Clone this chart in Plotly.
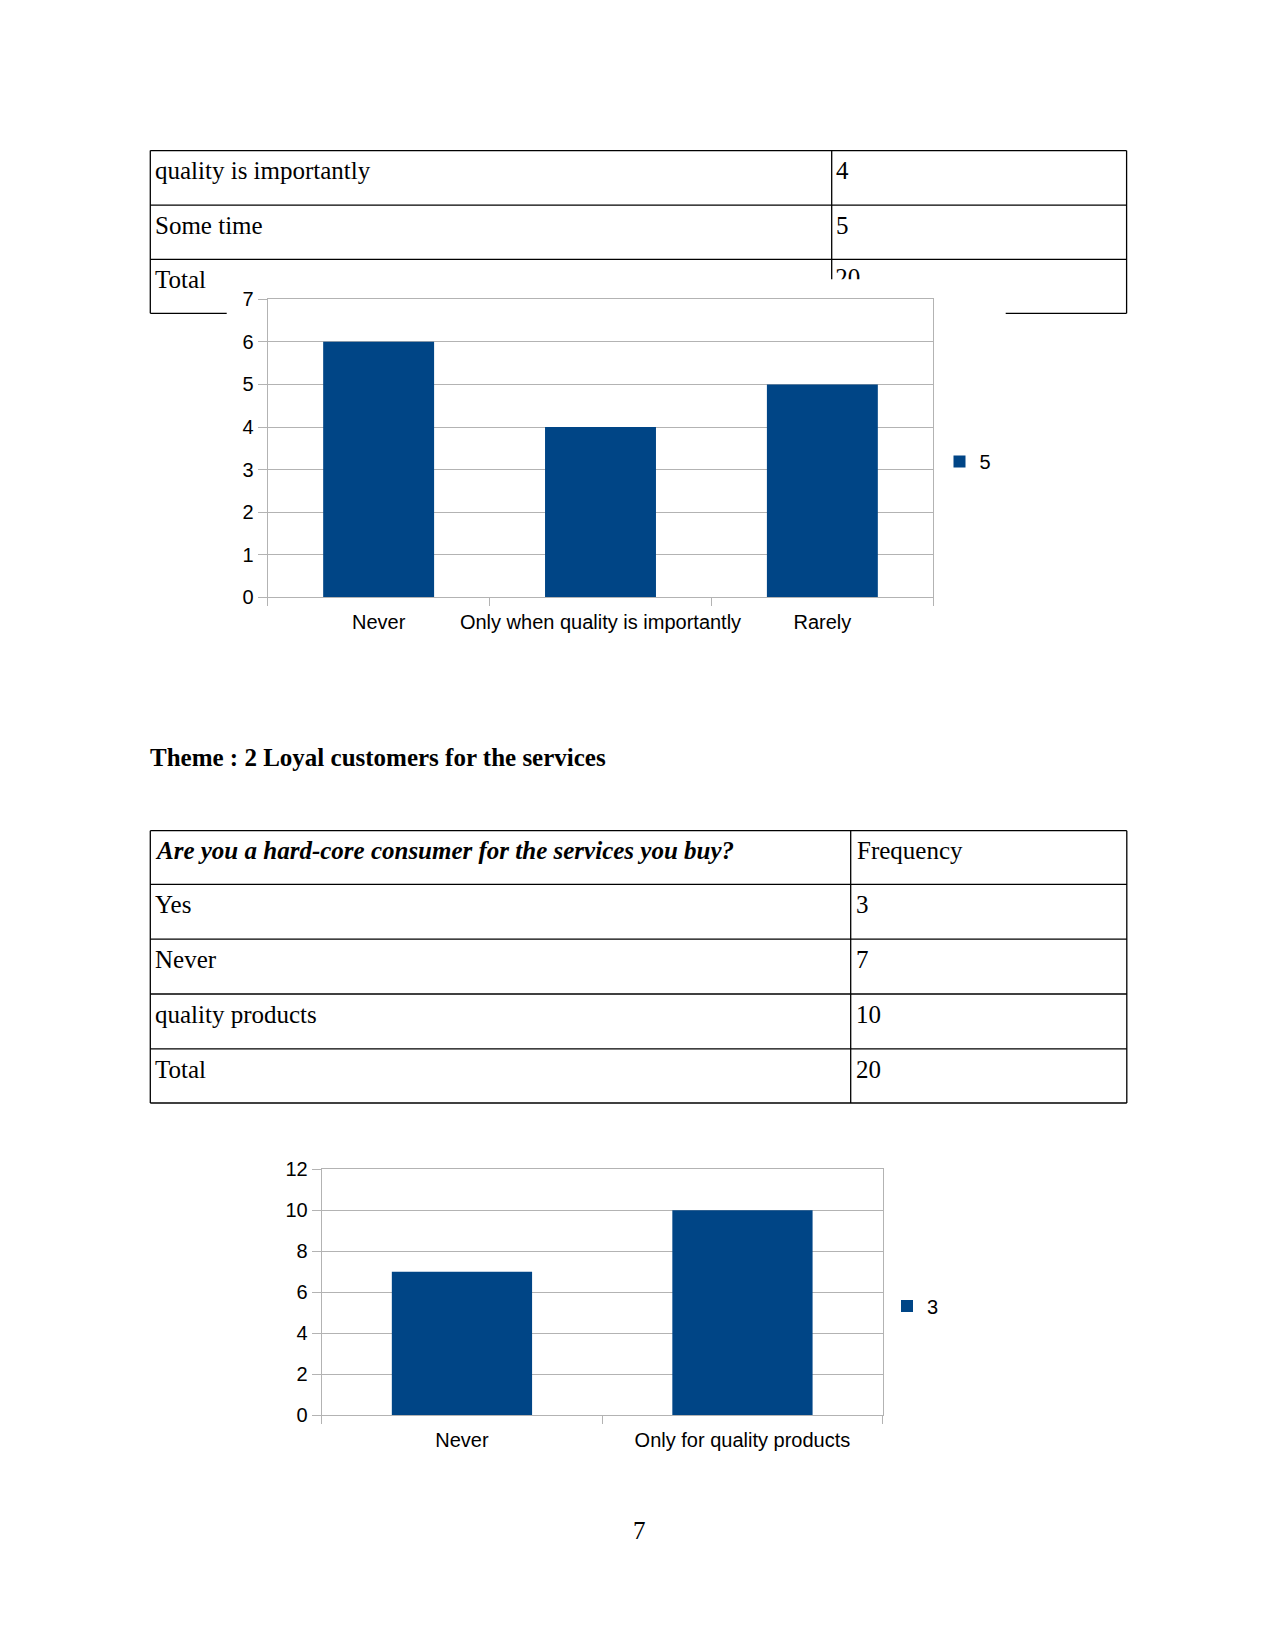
import plotly.graph_objects as go

W, H = 1275, 1651

# ---------------- data ----------------
table1_labels = ["quality is importantly", "Some time", "Total"]
table1_values = ["4", "5", "20"]

chart1_categories = ["Never", "Only when quality is importantly", "Rarely"]
chart1_values = [6, 4, 5]
chart1_series = "5"

theme_title = "Theme : 2 Loyal customers for the services"

table2_header = ["Are you a hard-core consumer for the services you buy?", "Frequency"]
table2_labels = ["Yes", "Never", "quality products", "Total"]
table2_values = ["3", "7", "10", "20"]

chart2_categories = ["Never", "Only for quality products"]
chart2_values = [7, 10]
chart2_series = "3"

page_number = "7"

# ---------------- styles ----------------
BAR = "#004586"
GRID = "#b3b3b3"
SERIF = "Liberation Serif"
SANS = "Liberation Sans"


def px(x):
    return x / W


def py(y):
    return 1 - y / H


fig = go.Figure()

fig.add_trace(go.Bar(
    x=chart1_categories, y=chart1_values, name=chart1_series,
    marker=dict(color=BAR, line=dict(width=0)),
    xaxis="x", yaxis="y", legend="legend", hoverinfo="x+y",
))
fig.add_trace(go.Bar(
    x=chart2_categories, y=chart2_values, name=chart2_series,
    marker=dict(color=BAR, line=dict(width=0)),
    xaxis="x2", yaxis="y2", legend="legend2", hoverinfo="x+y",
))
# the partly hidden "20" of the first table (covered by the chart)
fig.add_trace(go.Scatter(
    x=[3.5], y=[280], mode="text", text=[table1_values[2]],
    textposition="middle right",
    textfont=dict(family=SERIF, size=25, color="black"),
    xaxis="x3", yaxis="y3", showlegend=False, cliponaxis=True,
    hoverinfo="skip",
))

shapes = []


def hline(x0, x1, y):
    shapes.append(dict(type="line", xref="paper", yref="paper",
                       x0=px(x0), x1=px(x1), y0=py(y), y1=py(y),
                       line=dict(color="black", width=1.3), layer="below"))


def vline(x, y0, y1):
    shapes.append(dict(type="line", xref="paper", yref="paper",
                       x0=px(x), x1=px(x), y0=py(y0), y1=py(y1),
                       line=dict(color="black", width=1.3), layer="below"))


# table 1
T1L, T1R, T1C = 150.3, 1126.6, 831.7
t1_rows = [150.6, 205.2, 259.3, 313.3]
for y in t1_rows:
    hline(T1L, T1R, y)
vline(T1L, t1_rows[0], t1_rows[-1])
vline(T1R, t1_rows[0], t1_rows[-1])
vline(T1C, t1_rows[0], t1_rows[-1])

# white chart background covering part of table 1
shapes.append(dict(type="rect", xref="paper", yref="paper",
                   x0=px(226.7), x1=px(1005.7), y0=py(660), y1=py(279.3),
                   fillcolor="white", line=dict(width=0), layer="below"))

# table 2
T2L, T2R, T2C = 150.3, 1126.8, 850.7
t2_rows = [830.7, 884.4, 939.2, 994.0, 1048.8, 1103.0]
for y in t2_rows:
    hline(T2L, T2R, y)
vline(T2L, t2_rows[0], t2_rows[-1])
vline(T2R, t2_rows[0], t2_rows[-1])
vline(T2C, t2_rows[0], t2_rows[-1])

annotations = []


def text(x, y, s, size=25, anchor="left"):
    annotations.append(dict(x=px(x), y=py(y), xref="paper", yref="paper",
                            text=s, showarrow=False, xanchor=anchor,
                            yanchor="middle",
                            font=dict(family=SERIF, size=size, color="black")))


OFF = 20.2
for i, lab in enumerate(table1_labels):
    text(153, t1_rows[i] + OFF, lab)
for i, val in enumerate(table1_values[:2]):
    text(834, t1_rows[i] + OFF, val)

text(147.5, 757, "<b>" + theme_title + "</b>")

text(153, t2_rows[0] + OFF, "<b><i>" + table2_header[0] + "</i></b>")
text(854.5, t2_rows[0] + OFF, table2_header[1])
for i, lab in enumerate(table2_labels):
    text(153, t2_rows[i + 1] + OFF, lab)
    text(854, t2_rows[i + 1] + OFF, table2_values[i])

text(639.5, 1530.5, page_number, anchor="center")

tickfont = dict(family=SANS, size=20, color="black")

xcommon = dict(type="category", tickson="boundaries", ticks="outside",
               ticklen=8, tickcolor=GRID, tickwidth=1, showline=True,
               linecolor=GRID, linewidth=1, mirror=True, showgrid=False,
               zeroline=False, tickfont=tickfont, fixedrange=True,
               tickangle=0, automargin=False, ticklabelstandoff=7)
ycommon = dict(ticks="outside", ticklen=9, tickcolor=GRID, tickwidth=1,
               showline=True, linecolor=GRID, linewidth=1, mirror=True,
               showgrid=True, gridcolor=GRID, gridwidth=1, zeroline=False,
               tickfont=tickfont, fixedrange=True, automargin=False)

fig.update_layout(
    width=W, height=H, autosize=False,
    margin=dict(l=0, r=0, t=0, b=0, pad=0, autoexpand=False),
    paper_bgcolor="white", plot_bgcolor="rgba(0,0,0,0)",
    bargap=0.5,
    shapes=shapes, annotations=annotations,
    xaxis=dict(domain=[px(267.7), px(933.3)], anchor="y", **xcommon),
    yaxis=dict(domain=[py(597.3), py(299.3)], anchor="x", range=[0, 7],
               tick0=0, dtick=1, **ycommon),
    xaxis2=dict(domain=[px(321.7), px(882.7)], anchor="y2", **xcommon),
    yaxis2=dict(domain=[py(1415.0), py(1169.3)], anchor="x2", range=[0, 12],
                tick0=0, dtick=2, **ycommon),
    xaxis3=dict(domain=[px(T1C), px(T1R)], anchor="y3", range=[0, T1R - T1C],
                visible=False, fixedrange=True),
    yaxis3=dict(domain=[py(279.3), py(259.3)], anchor="x3", range=[279.3, 259.3],
                visible=False, fixedrange=True),
    legend=dict(x=px(939.5), y=py(461.5), xanchor="left", yanchor="middle",
                bgcolor="rgba(0,0,0,0)", borderwidth=0,
                font=dict(family=SANS, size=20, color="black")),
    legend2=dict(x=px(887), y=py(1306), xanchor="left", yanchor="middle",
                 bgcolor="rgba(0,0,0,0)", borderwidth=0,
                 font=dict(family=SANS, size=20, color="black")),
    showlegend=True,
)

fig.write_html("out.html")
